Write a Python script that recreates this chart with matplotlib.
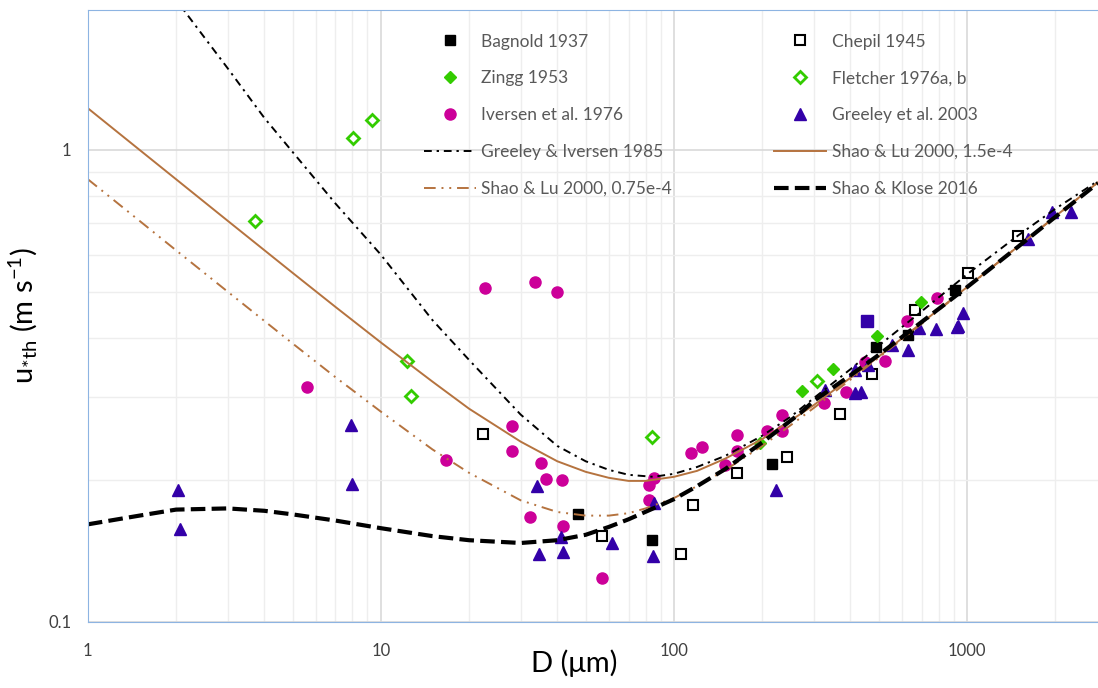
import numpy as np
import matplotlib
matplotlib.use('Agg')
import matplotlib.pyplot as plt

plt.rcParams['font.family'] = ['Lato', 'DejaVu Sans']
plt.rcParams['mathtext.fontset'] = 'custom'
plt.rcParams['mathtext.rm'] = 'Lato'
plt.rcParams['mathtext.it'] = 'Lato'

# observations, D in um, u*th in m/s
bagnold_d = [47, 84, 216, 489, 629, 911]
bagnold_u = [0.169, 0.149, 0.216, 0.383, 0.406, 0.505]

chepil_d = [22.3, 57, 106, 116, 164, 243, 369, 474, 665, 1007, 1493]
chepil_u = [0.250, 0.152, 0.139, 0.177, 0.207, 0.224, 0.276, 0.335, 0.458, 0.549, 0.657]

zingg_d = [197, 273, 349, 493, 697]
zingg_u = [0.240, 0.309, 0.344, 0.404, 0.476]

fletcher_d = [3.72, 8.02, 9.31, 12.3, 12.7, 84, 308]
fletcher_u = [0.707, 1.06, 1.16, 0.357, 0.301, 0.247, 0.324]

iversen_d = [5.59, 16.7, 22.6, 33.5, 39.9, 28.0, 28.0, 35.2, 36.6, 41.5, 32.3, 41.8, 56.8,
             82, 85.5, 82, 114, 125, 164, 164, 149, 208, 234, 234, 325, 386, 449, 525, 624, 790]
iversen_u = [0.315, 0.220, 0.510, 0.525, 0.500, 0.260, 0.230, 0.217, 0.201, 0.200, 0.167, 0.160, 0.124,
             0.195, 0.202, 0.181, 0.228, 0.235, 0.249, 0.230, 0.215, 0.254, 0.275, 0.254, 0.291, 0.307,
             0.356, 0.357, 0.434, 0.486]

greeley_d = [2.03, 2.06, 7.9, 7.95, 34.1, 41.1, 34.6, 41.8, 61.4, 85.5, 84.8, 223, 327, 415, 435,
             415, 459, 555, 629, 686, 783, 925, 969, 931, 1615, 1950, 2265]
greeley_u = [0.190, 0.157, 0.261, 0.196, 0.194, 0.151, 0.139, 0.141, 0.147, 0.179, 0.138, 0.190, 0.310,
             0.305, 0.307, 0.342, 0.350, 0.386, 0.377, 0.420, 0.418, 0.422, 0.452, 0.424, 0.648,
             0.739, 0.739]
greeley_sq_d = [456]
greeley_sq_u = [0.434]

# schemes
gi_d = [2, 3, 4, 5, 7, 10, 15, 20, 30, 40, 50, 60, 70, 85, 100, 120, 150, 200, 250, 300, 400,
        500, 700, 1000, 1500, 2000, 2800]
gi_u = [2.08, 1.49, 1.17, 0.99, 0.77, 0.60, 0.436, 0.359, 0.275, 0.236, 0.219, 0.210, 0.205, 0.203,
        0.206, 0.213, 0.225, 0.248, 0.272, 0.298, 0.343, 0.385, 0.455, 0.545, 0.660, 0.750, 0.860]

sl_d = [1, 1.5, 2, 3, 5, 7, 10, 15, 20, 30, 40, 50, 60, 70, 80, 100, 120, 150, 200, 250, 300, 400,
        500, 700, 1000, 1500, 2000, 2800]
sl15_u = [1.226, 1.001, 0.867, 0.708, 0.549, 0.465, 0.391, 0.323, 0.283, 0.241, 0.219, 0.208, 0.202,
          0.199, 0.199, 0.203, 0.209, 0.222, 0.244, 0.267, 0.288, 0.329, 0.365, 0.430, 0.512, 0.626,
          0.723, 0.854]
sl075_u = [0.867, 0.708, 0.613, 0.501, 0.389, 0.330, 0.279, 0.232, 0.207, 0.181, 0.171, 0.168, 0.168,
           0.170, 0.174, 0.183, 0.194, 0.210, 0.236, 0.261, 0.284, 0.326, 0.363, 0.428, 0.511, 0.626,
           0.722, 0.854]

sk_d = [1, 1.5, 2, 3, 4, 5, 7, 10, 15, 20, 30, 40, 50, 60, 70, 85, 100, 120, 150, 200, 270, 300,
        400, 500, 700, 1000, 1500, 2000, 2800]
sk_u = [0.161, 0.168, 0.173, 0.174, 0.172, 0.169, 0.164, 0.158, 0.152, 0.149, 0.147, 0.149, 0.153,
        0.159, 0.165, 0.174, 0.182, 0.194, 0.211, 0.240, 0.277, 0.294, 0.333, 0.368, 0.432, 0.512,
        0.625, 0.721, 0.851]

green = '#33CC00'
magenta = '#CC0099'
indigo = '#3300A8'
brown = '#B5733F'

fig = plt.figure(figsize=(10.98, 6.88), dpi=100)
ax = fig.add_axes([0.080, 0.096, 0.920, 0.8895])

h_bag, = ax.plot(bagnold_d, bagnold_u, 's', color='black', ms=7, ls='none')
h_che, = ax.plot(chepil_d, chepil_u, 's', mfc='white', mec='black', mew=1.5, ms=7, ls='none')
h_zin, = ax.plot(zingg_d, zingg_u, 'D', color=green, ms=6, ls='none')
h_fle, = ax.plot(fletcher_d, fletcher_u, 'D', mfc='white', mec=green, mew=2, ms=6, ls='none')
h_ive, = ax.plot(iversen_d, iversen_u, 'o', color=magenta, ms=8, ls='none')
h_gre, = ax.plot(greeley_d, greeley_u, '^', color=indigo, ms=8.5, ls='none')
ax.plot(greeley_sq_d, greeley_sq_u, 's', color=indigo, ms=8, ls='none')

h_gi, = ax.plot(gi_d, gi_u, color='black', lw=1.4, dashes=(4, 2.5, 1.2, 2.5))
h_sl1, = ax.plot(sl_d, sl15_u, color=brown, lw=1.4)
h_sl2, = ax.plot(sl_d, sl075_u, color=brown, lw=1.4, dashes=(6, 3, 1, 3, 1, 3))
h_sk, = ax.plot(sk_d, sk_u, color='black', lw=3, dashes=(3.5, 1.5))

ax.set_xscale('log')
ax.set_yscale('log')
ax.set_xlim(1, 2800)
ax.set_ylim(0.1, 1.98)

ax.set_xticks([1, 10, 100, 1000])
ax.set_xticklabels(['1', '10', '100', '1000'])
ax.set_yticks([0.1, 1])
ax.set_yticklabels(['0.1', '1'])
ax.tick_params(which='both', length=0, labelsize=12, colors='#404040')
ax.tick_params(axis='x', pad=15)
ax.tick_params(axis='y', pad=12)

ax.grid(which='major', color='#D9D9D9', lw=1.2)
ax.grid(which='minor', color='#EEEEEE', lw=1)
ax.set_axisbelow(True)

for s in ['left', 'bottom', 'top']:
    ax.spines[s].set_color('#8DB4E2')
ax.spines['right'].set_visible(False)

ax.set_xlabel('D (\u03bcm)', fontsize=21, labelpad=2)
ax.xaxis.set_label_coords(0.482, -0.045, transform=ax.transAxes)
ax.xaxis.label.set_va('top')
ax.set_ylabel(r'u$_{*\mathrm{th}}$ (m s$^{-1}$)', fontsize=21, labelpad=6)

legkw = dict(frameon=False, fontsize=12.5, handlelength=3.0, handletextpad=0.3,
             labelspacing=1.2, loc='upper left', borderpad=0.4)
leg1 = ax.legend([h_bag, h_zin, h_ive, h_gi, h_sl2],
                 ['Bagnold 1937', 'Zingg 1953', 'Iversen et al. 1976', 'Greeley & Iversen 1985',
                  'Shao & Lu 2000, 0.75e-4'],
                 bbox_to_anchor=(0.317, 0.987), **legkw)
ax.add_artist(leg1)
leg2 = ax.legend([h_che, h_fle, h_gre, h_sl1, h_sk],
                 ['Chepil 1945', 'Fletcher 1976a, b', 'Greeley et al. 2003', 'Shao & Lu 2000, 1.5e-4',
                  'Shao & Klose 2016'],
                 bbox_to_anchor=(0.664, 0.987), **legkw)
for leg in (leg1, leg2):
    for t in leg.get_texts():
        t.set_color('#595959')

fig.savefig('out.png', dpi=100)
